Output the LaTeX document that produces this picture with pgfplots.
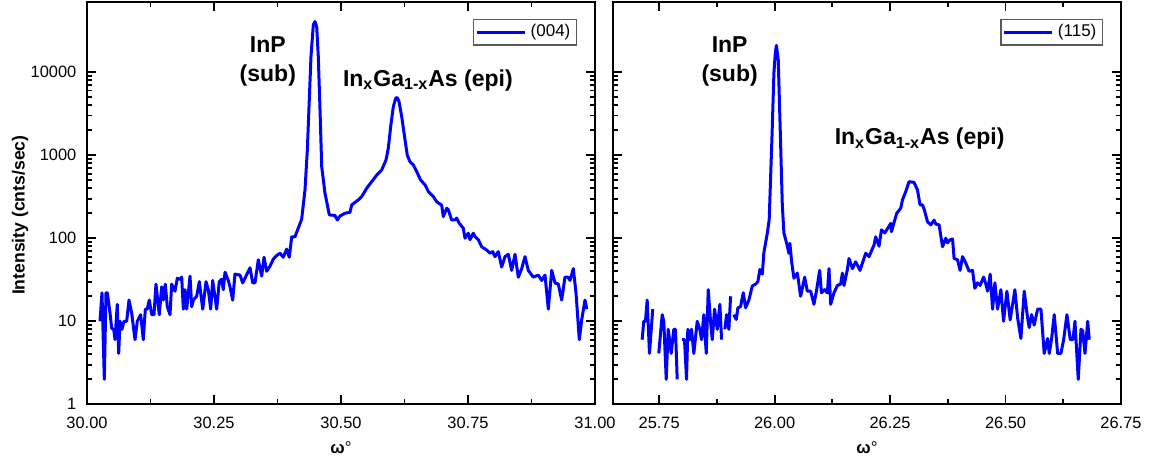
\documentclass[border=0pt]{standalone}
\usepackage{fontspec}
\setmainfont{Liberation Sans}
\usepackage{pgfplots}
\pgfplotsset{compat=1.18}
\definecolor{specblue}{RGB}{0,0,255}
\newcommand{\lbl}{\fontsize{11.5}{14.5}\selectfont\bfseries}

\begin{document}
\begin{tikzpicture}
\useasboundingbox (-43.5pt,-27.35pt) rectangle (534pt,202.15pt);

\begin{axis}[at={(0pt,0pt)}, anchor=south west,
  scale only axis, width=254pt, height=201.15pt,
  ymode=log, ymin=1, ymax=70000,
  ytick={1,10,100,1000,10000}, yticklabels={1,10,100,1000,10000},
  xmin=30, xmax=31, xtick={30,30.25,30.5,30.75,31},
  minor x tick num=1,
  tick align=inside,
  major tick length=4.5pt, minor tick length=2.5pt,
  every tick/.style={black, line width=0.9pt},
  axis line style={line width=1.1pt},
  tick label style={font=\fontsize{8.2}{9.8}\selectfont},
  xticklabel style={yshift=-2.6pt},
  /pgf/number format/fixed, /pgf/number format/fixed zerofill,
  /pgf/number format/precision=2, /pgf/number format/assume math mode=true,
  yticklabel style={xshift=-1.8pt},
  unbounded coords=jump, clip mode=individual,
  legend style={at={(1,1)}, anchor=north east, xshift=-9pt, yshift=-8.5pt,
    draw=black!65, line width=0.6pt, inner xsep=1pt, inner ysep=0.5pt,
    font=\fontsize{8.5}{10}\selectfont},
  legend image code/.code={\draw[#1] (0pt,0pt) -- (24pt,0pt);},
]
\addplot[color=specblue, line width=1.5pt, mark=none, line join=round] coordinates {
(30.0256,10) (30.0295,22) (30.0341,2) (30.0374,22) (30.0400,22) (30.0453,12.6)
(30.0486,8.2) (30.0526,8) (30.0551,6) (30.0596,16) (30.0624,4.1) (30.0650,10)
(30.0689,8) (30.0728,10) (30.0781,10) (30.0827,18) (30.0880,12.5) (30.0945,6)
(30.0990,10) (30.1057,12) (30.1108,6) (30.1148,14) (30.1187,14) (30.1226,18)
(30.1274,12) (30.1319,12) (30.1358,28) (30.1423,12) (30.1470,26) (30.1502,18)
(30.1541,28) (30.1581,15) (30.1634,12) (30.1667,28) (30.1732,23) (30.1778,33)
(30.1831,32) (30.1864,34) (30.1896,14) (30.1929,24) (30.1963,14) (30.2028,35)
(30.2061,15) (30.2093,18) (30.2159,20) (30.2211,30) (30.2278,14) (30.2343,30)
(30.2388,24) (30.2435,14) (30.2474,31) (30.2553,14) (30.2604,30) (30.2652,32)
(30.2683,24) (30.2717,39) (30.2781,31) (30.2815,26) (30.2868,18) (30.2913,37)
(30.3012,36) (30.3065,29) (30.3110,33) (30.3209,44) (30.3262,29) (30.3307,29)
(30.3372,55) (30.3439,35) (30.3484,59) (30.3537,40) (30.3602,46) (30.3667,56)
(30.3734,62) (30.3799,66) (30.3864,59) (30.3931,74) (30.3982,59) (30.4030,104)
(30.4094,104) (30.4154,130) (30.4226,170) (30.4291,380) (30.4337,1150)
(30.4376,4700) (30.4409,15400) (30.4455,37000) (30.4488,40700) (30.4522,35000)
(30.4553,15400) (30.4587,3500) (30.4620,730) (30.4685,348) (30.4770,191)
(30.4882,188) (30.4927,166) (30.4980,185) (30.5079,200) (30.5177,205)
(30.5211,252) (30.5341,290) (30.5407,317) (30.5506,400) (30.5604,480)
(30.5703,575) (30.5801,665) (30.5886,875) (30.5931,1210) (30.5978,2210)
(30.6030,3850) (30.6077,4860) (30.6108,4950) (30.6142,4420) (30.6195,2920)
(30.6260,1530) (30.6305,1000) (30.6358,835) (30.6423,765) (30.6490,635)
(30.6569,500) (30.6654,440) (30.6719,365) (30.6817,318) (30.6884,275)
(30.6982,250) (30.7014,182) (30.7081,230) (30.7112,220) (30.7179,166)
(30.7244,166) (30.7278,175) (30.7329,151) (30.7407,132) (30.7441,100)
(30.7506,115) (30.7539,96) (30.7604,115) (30.7638,105) (30.7703,96) (30.7770,79)
(30.7868,72) (30.7933,66) (30.7986,69) (30.8031,60) (30.8096,69) (30.8163,45)
(30.8228,60) (30.8293,64) (30.8360,41) (30.8425,64) (30.8490,34) (30.8557,43)
(30.8622,60) (30.8687,41) (30.8785,34) (30.8884,36) (30.8951,31) (30.9016,36)
(30.9081,14) (30.9148,41) (30.9213,29) (30.9278,28) (30.9344,18) (30.9409,34)
(30.9469,34) (30.9508,31) (30.9573,43) (30.9626,22) (30.9691,6) (30.9738,10.4)
(30.9803,18) (30.9837,14)
};
\addlegendentry{(004)}
\node[font=\lbl, align=center] at (rel axis cs:0.356,0.852) {InP\\(sub)};
\node[font=\lbl, anchor=base] at (rel axis cs:0.671,0.791)
  {In\textsubscript{x}Ga\textsubscript{1-x}As (epi)};
\node[font=\fontsize{8.5}{10}\selectfont, yshift=-21.5pt] at (rel axis cs:0.5,0)
  {\textbf{ω}°};
\node[font=\fontsize{8.8}{10}\selectfont\bfseries, xshift=-33.5pt, rotate=90]
  at (rel axis cs:0,0.47) {Intensity (cnts/sec)};
\end{axis}

\begin{axis}[at={(263pt,0pt)}, anchor=south west,
  scale only axis, width=254pt, height=201.15pt,
  ymode=log, ymin=1, ymax=70000,
  ytick={1,10,100,1000,10000}, yticklabels={},
  xmin=25.65, xmax=26.75, xtick={25.75,26,26.25,26.5,26.75},
  minor x tick num=1,
  tick align=inside,
  major tick length=4.5pt, minor tick length=2.5pt,
  every tick/.style={black, line width=0.9pt},
  axis line style={line width=1.1pt},
  tick label style={font=\fontsize{8.2}{9.8}\selectfont},
  xticklabel style={yshift=-2.6pt},
  /pgf/number format/fixed, /pgf/number format/fixed zerofill,
  /pgf/number format/precision=2, /pgf/number format/assume math mode=true,
  unbounded coords=jump, clip mode=individual,
  legend style={at={(1,1)}, anchor=north east, xshift=-9pt, yshift=-8.5pt,
    draw=black!65, line width=0.6pt, inner xsep=1pt, inner ysep=0.5pt,
    font=\fontsize{8.5}{10}\selectfont},
  legend image code/.code={\draw[#1] (0pt,0pt) -- (24pt,0pt);},
]
\addplot[color=specblue, line width=1.5pt, mark=none, line join=round] coordinates {
(25.7131,6) (25.7166,10) (25.7203,10) (25.7240,18) (25.7290,4.1) (25.7361,14)
(25.742,nan) (25.7491,4.1) (25.7565,12) (25.7600,10) (25.7652,2) (25.7695,8)
(25.7760,4.1) (25.7816,8) (25.7853,8) (25.7890,2) (25.795,nan) (25.7999,6)
(25.8048,6) (25.8092,2) (25.8120,8) (25.8163,6) (25.8200,8) (25.8250,4.1)
(25.8324,10) (25.8380,8) (25.8417,6) (25.8467,12) (25.8519,4.1) (25.8562,24)
(25.8612,10) (25.8649,6) (25.8699,14) (25.8757,8) (25.8814,16) (25.8851,6)
(25.8885,nan) (25.8922,8) (25.8959,12) (25.9009,8) (25.9046,20) (25.908,nan)
(25.9117,12) (25.9169,10.5) (25.9204,14.5) (25.9262,15) (25.9321,22)
(25.9371,14.5) (25.9442,18) (25.9516,26.6) (25.9588,28) (25.9637,30)
(25.9681,42) (25.9733,37) (25.9767,67) (25.9841,115) (25.9882,166)
(25.9945,1840) (25.9984,9750) (26.0015,17000) (26.0038,21000) (26.0078,14000)
(26.0123,1840) (26.0166,250) (26.0201,115) (26.0260,87) (26.0309,66)
(26.0330,87) (26.0368,52) (26.0418,33) (26.0492,38) (26.0563,20) (26.0650,34)
(26.0708,23) (26.0780,23) (26.0851,16) (26.0910,24) (26.0975,41) (26.1012,22)
(26.1083,24) (26.1142,22) (26.1177,43) (26.1213,16) (26.1285,22) (26.1359,27)
(26.1430,28) (26.1467,38) (26.1502,27) (26.1575,42) (26.1610,57) (26.1684,43)
(26.1755,52) (26.1849,41) (26.1972,66) (26.2044,60) (26.2152,83) (26.2189,104)
(26.2260,80) (26.2313,126) (26.2384,116) (26.2443,130) (26.2514,151)
(26.2529,120) (26.2586,155) (26.2644,200) (26.2731,230) (26.2768,290)
(26.2839,365) (26.2911,480) (26.3019,470) (26.3093,380) (26.3149,252)
(26.3201,252) (26.3236,225) (26.3310,158) (26.3381,145) (26.3453,165)
(26.3490,148) (26.3561,145) (26.3635,79) (26.3707,100) (26.3744,88)
(26.3800,96) (26.3852,98) (26.3886,57) (26.3960,55) (26.4016,41) (26.4068,60)
(26.4140,50) (26.4211,40) (26.4285,41) (26.4335,25) (26.4393,29) (26.4449,27)
(26.4524,34) (26.4574,28) (26.4611,23) (26.4667,37) (26.4719,14) (26.4769,29)
(26.4827,14) (26.4899,24) (26.4957,10) (26.5029,23) (26.5100,10.4) (26.5202,24)
(26.5261,11) (26.5332,6.2) (26.5404,23) (26.5477,11) (26.5512,8.4) (26.5564,12)
(26.5620,9) (26.5694,14) (26.5766,14) (26.5837,4.1) (26.5911,6.2) (26.5946,4.1)
(26.5998,6.2) (26.6054,12) (26.6128,4.1) (26.6199,4.1) (26.6258,6) (26.6329,12)
(26.6401,6) (26.6460,6) (26.6503,10) (26.6574,2) (26.6633,8) (26.6670,7.7)
(26.6720,4.1) (26.6778,10) (26.6813,6)
};
\addlegendentry{(115)}
\node[font=\lbl, align=center] at (rel axis cs:0.2296,0.852) {InP\\(sub)};
\node[font=\lbl, anchor=base] at (rel axis cs:0.6036,0.645)
  {In\textsubscript{x}Ga\textsubscript{1-x}As (epi)};
\node[font=\fontsize{8.5}{10}\selectfont, yshift=-21.5pt] at (rel axis cs:0.5,0)
  {\textbf{ω}°};
\end{axis}
\end{tikzpicture}
\end{document}
